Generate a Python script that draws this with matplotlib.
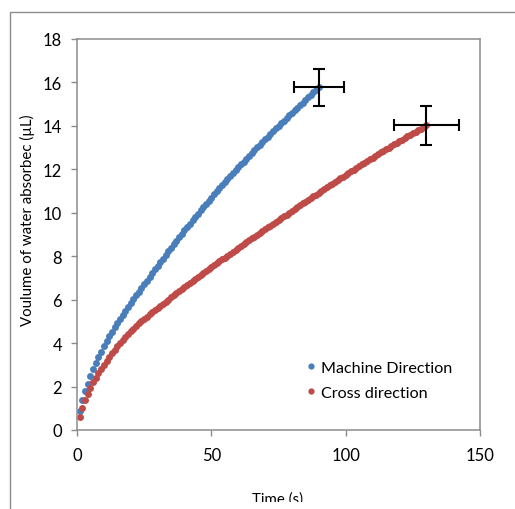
import matplotlib.pyplot as plt
from matplotlib.patches import Rectangle
from matplotlib.transforms import Bbox, TransformedBbox

plt.rcParams['font.family'] = ['Lato', 'DejaVu Sans']

# Machine direction (blue), one reading per second
md_time = list(range(1, 91))
md_volume = [
    0.87, 1.37, 1.78, 2.13, 2.49, 2.79, 3.08, 3.35, 3.61, 3.85,
    4.08, 4.31, 4.51, 4.73, 4.93, 5.13, 5.31, 5.49, 5.68, 5.85,
    6.02, 6.20, 6.37, 6.54, 6.71, 6.88, 7.05, 7.22, 7.39, 7.56,
    7.73, 7.89, 8.06, 8.22, 8.38, 8.55, 8.71, 8.87, 9.03, 9.19,
    9.35, 9.50, 9.66, 9.81, 9.96, 10.11, 10.26, 10.41, 10.56, 10.70,
    10.85, 10.99, 11.13, 11.27, 11.41, 11.55, 11.69, 11.83, 11.96, 12.10,
    12.23, 12.36, 12.49, 12.62, 12.75, 12.88, 13.01, 13.14, 13.26, 13.39,
    13.51, 13.63, 13.75, 13.88, 14.00, 14.12, 14.24, 14.36, 14.48, 14.60,
    14.72, 14.84, 14.96, 15.07, 15.19, 15.31, 15.42, 15.54, 15.65, 15.77,
]

# Cross direction (red)
cd_time = list(range(1, 131))
cd_volume = [
    0.58, 1.03, 1.37, 1.67, 1.95, 2.19, 2.41, 2.62, 2.82, 3.01,
    3.19, 3.36, 3.53, 3.70, 3.85, 3.99, 4.13, 4.27, 4.41, 4.54,
    4.66, 4.79, 4.91, 5.02, 5.12, 5.22, 5.32, 5.42, 5.51, 5.61,
    5.71, 5.81, 5.90, 6.00, 6.10, 6.20, 6.30, 6.39, 6.49, 6.58,
    6.67, 6.77, 6.86, 6.95, 7.05, 7.14, 7.23, 7.32, 7.41, 7.50,
    7.59, 7.68, 7.77, 7.86, 7.94, 8.03, 8.12, 8.21, 8.29, 8.38,
    8.47, 8.56, 8.64, 8.73, 8.82, 8.90, 8.99, 9.07, 9.16, 9.24,
    9.33, 9.41, 9.50, 9.58, 9.67, 9.75, 9.84, 9.92, 10.01, 10.09,
    10.18, 10.26, 10.35, 10.43, 10.51, 10.60, 10.68, 10.76, 10.84, 10.93,
    11.01, 11.09, 11.18, 11.26, 11.34, 11.42, 11.51, 11.59, 11.67, 11.75,
    11.83, 11.91, 11.99, 12.07, 12.15, 12.23, 12.31, 12.38, 12.46, 12.54,
    12.62, 12.70, 12.78, 12.85, 12.93, 13.00, 13.08, 13.15, 13.23, 13.30,
    13.37, 13.44, 13.52, 13.59, 13.66, 13.73, 13.80, 13.87, 13.95, 14.02,
]

# error on the final point of each run
md_xerr, md_yerr = 9.2, 0.84
cd_xerr, cd_yerr = 12.1, 0.89

labels = ["Machine Direction", "Cross direction"]
colors = ["#4A7EBB", "#BE4B48"]

fig = plt.figure(figsize=(5.15, 5.10), dpi=100)
W, H = 515, 510
ax = fig.add_axes([77 / W, 1 - 431 / H, 403 / W, 391 / H])

ax.plot(md_time, md_volume, "o", ms=5.0, color=colors[0], mec="none", label=labels[0])
ax.plot(cd_time, cd_volume, "o", ms=5.0, color=colors[1], mec="none", label=labels[1])

ax.errorbar(md_time[-1], md_volume[-1], xerr=md_xerr, yerr=md_yerr, fmt="none",
            ecolor="black", elinewidth=1.5, capsize=4.5, capthick=1.5)
ax.errorbar(cd_time[-1], cd_volume[-1], xerr=cd_xerr, yerr=cd_yerr, fmt="none",
            ecolor="black", elinewidth=1.5, capsize=4.5, capthick=1.5)

ax.set_xlim(0, 150)
ax.set_ylim(0, 18)
ax.set_xticks([0, 50, 100, 150])
ax.set_yticks(range(0, 19, 2))
for s in ax.spines.values():
    s.set_color("#8c8c8c")
    s.set_linewidth(1.1)
ax.tick_params(direction="out", length=4.3, width=1.0, color="#8c8c8c",
               labelsize=12, labelcolor="black")
ax.tick_params(axis="y", pad=6.5)
ax.tick_params(axis="x", pad=8)

ax.legend(loc="center left", bbox_to_anchor=(0.55, 0.127), frameon=False,
          fontsize=11.6, handlelength=0.5, handletextpad=0.4, labelspacing=0.65,
          borderpad=0, markerscale=0.9)

fig.text(27 / W, 1 - 220 / H, "Voulume of water absorbec (µL)", rotation=90,
         ha="center", va="center", fontsize=10.8)
xl = fig.text(278 / W, 1 - 504 / H, "Time (s)", ha="center", va="baseline", fontsize=10.8)
xl.set_clip_box(TransformedBbox(Bbox([[0, 7 / H], [1, 1]]), fig.transFigure))
xl.set_clip_on(True)

# outer chart-area frame (only left and top edges fall inside the picture)
fig.patches.append(Rectangle((10 / W, -0.1), 1.2, 1.1 - 13 / H, transform=fig.transFigure,
                             fill=False, edgecolor="#8c8c8c", linewidth=1.0))

fig.savefig("out.png", dpi=100)
